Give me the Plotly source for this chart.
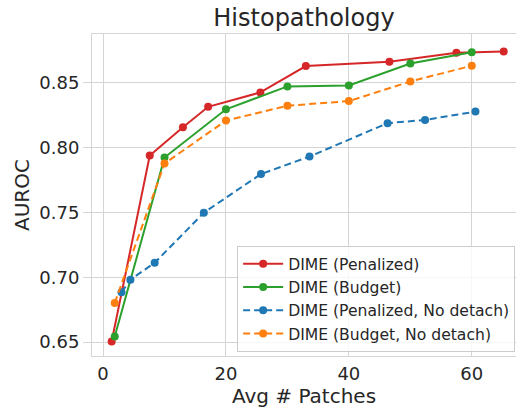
import plotly.graph_objects as go

# values
pen_x = [1.4, 7.6, 13.0, 17.1, 25.6, 33.0, 46.6, 57.5, 65.2]
pen_y = [0.6505, 0.7937, 0.8156, 0.8313, 0.8424, 0.8627, 0.8660, 0.8729, 0.8739]

bud_x = [1.9, 10.0, 20.0, 30.0, 40.0, 50.0, 60.0]
bud_y = [0.6543, 0.7922, 0.8294, 0.8470, 0.8477, 0.8647, 0.8734]

pen_nd_x = [3.0, 4.45, 8.4, 16.4, 25.7, 33.6, 46.3, 52.4, 60.6]
pen_nd_y = [0.6884, 0.6981, 0.7111, 0.7497, 0.7795, 0.7930, 0.8187, 0.8212, 0.8276]

bud_nd_x = [1.9, 10.0, 20.0, 30.0, 40.0, 50.0, 60.0]
bud_nd_y = [0.6802, 0.7876, 0.8207, 0.8321, 0.8357, 0.8508, 0.8630]

series = [
    ('DIME (Penalized)', pen_x, pen_y, '#d62728', 'solid'),
    ('DIME (Budget)', bud_x, bud_y, '#2ca02c', 'solid'),
    ('DIME (Penalized, No detach)', pen_nd_x, pen_nd_y, '#1f77b4', '7px,4px'),
    ('DIME (Budget, No detach)', bud_nd_x, bud_nd_y, '#ff7f0e', '7px,4px'),
]

txt = '#262626'
grid = '#d5d5d5'
font = 'DejaVu Sans'

fig = go.Figure()
for name, xs, ys, col, dash in series:
    fig.add_trace(go.Scatter(x=xs, y=ys, name=name, mode='lines+markers',
                             line=dict(color=col, width=2, dash=dash),
                             marker=dict(color=col, size=8)))

fig.update_layout(
    width=516, height=410,
    margin=dict(l=92, r=0, t=34, b=54),
    paper_bgcolor='white', plot_bgcolor='white',
    font=dict(family=font, color=txt),
    title=dict(text='Histopathology', x=304 / 516, xanchor='center',
               y=1 - 18 / 410, yanchor='middle',
               font=dict(size=24, color=txt)),
    xaxis=dict(range=[-1.8, 67.2], tickvals=[0, 20, 40, 60], automargin=False,
               showgrid=True, gridcolor=grid, gridwidth=1,
               showline=True, linecolor=grid, mirror=True, zeroline=False,
               tickfont=dict(size=18, color=txt), ticks='', ticklabelstandoff=1,
               title=dict(text='Avg # Patches', font=dict(size=20, color=txt), standoff=4)),
    yaxis=dict(range=[0.6393, 0.8874], tickvals=[0.65, 0.70, 0.75, 0.80, 0.85],
               tickformat='.2f', automargin=False,
               showgrid=True, gridcolor=grid, gridwidth=1,
               showline=True, linecolor=grid, mirror=True, zeroline=False,
               ticks='outside', ticklen=8, tickcolor=grid,
               tickfont=dict(size=18, color=txt),
               title=dict(text='AUROC', font=dict(size=20, color=txt), standoff=4)),
    legend=dict(x=0.998, y=0.012, xanchor='right', yanchor='bottom',
                bgcolor='rgba(255,255,255,0.8)', bordercolor='#cccccc', borderwidth=1,
                font=dict(size=15.6, color=txt), tracegroupgap=0, itemwidth=40),
)

fig.write_html("out.html", config={'displayModeBar': False},
               post_script="document.body.style.margin='0';")
